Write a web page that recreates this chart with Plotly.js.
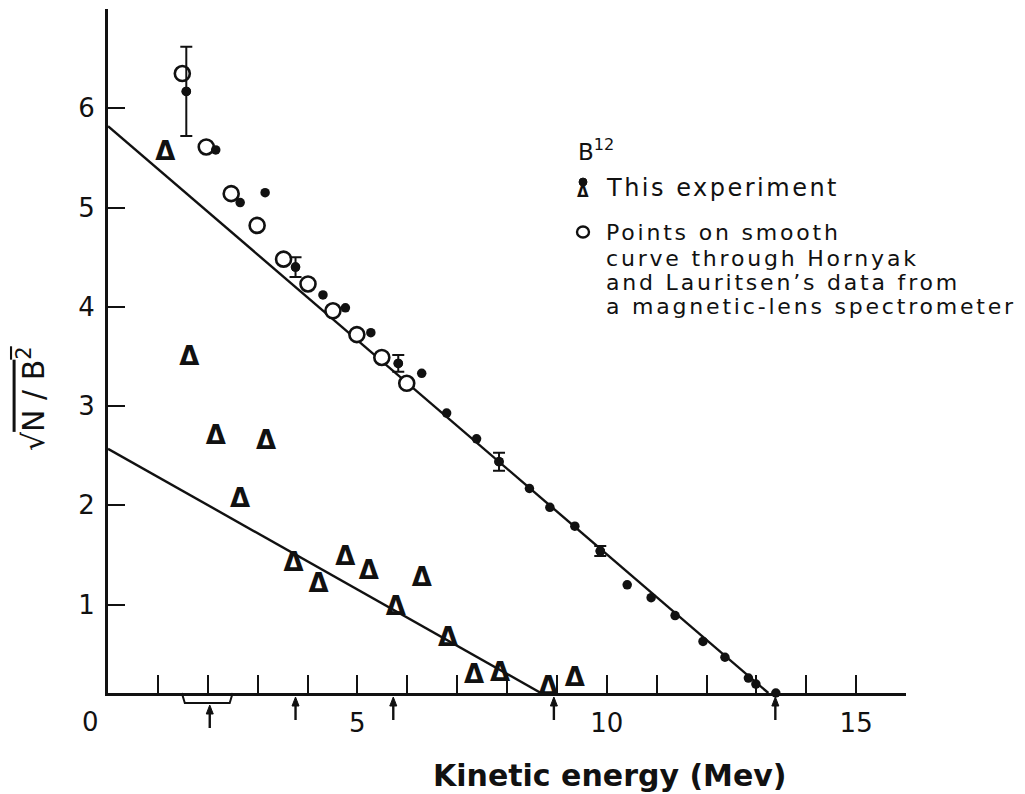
<!DOCTYPE html>
<html>
<head>
<meta charset="utf-8">
<script src="https://cdn.plot.ly/plotly-3.0.1.min.js"></script>
<style>
  html, body { margin: 0; padding: 0; background: #fff; }
  #chart { width: 1025px; height: 794px; }
</style>
</head>
<body>
<div id="chart"></div>
<script>
// ---- Data ----
// Filled dots: this experiment (upper spectrum)
const dotX = [1.57, 2.16, 2.65, 3.15, 3.76, 4.31, 4.76, 5.27, 5.82, 6.29, 6.79, 7.39, 7.84, 8.45, 8.86, 9.36, 9.87, 10.41, 10.89, 11.37, 11.93, 12.37, 12.84, 12.99, 13.39];
const dotY = [6.17, 5.58, 5.05, 5.15, 4.40, 4.12, 3.99, 3.74, 3.43, 3.33, 2.93, 2.67, 2.44, 2.17, 1.98, 1.79, 1.54, 1.20, 1.07, 0.89, 0.63, 0.47, 0.26, 0.20, 0.11];
const dotErr = [0.45, null, null, null, 0.10, null, null, null, 0.085, null, null, null, 0.09, null, null, null, 0.05, null, null, null, null, null, null, null, null];

// Open circles: Hornyak and Lauritsen smooth curve
const circX = [1.49, 1.97, 2.47, 2.99, 3.52, 4.01, 4.51, 4.99, 5.49, 5.99];
const circY = [6.35, 5.61, 5.14, 4.82, 4.48, 4.23, 3.96, 3.72, 3.49, 3.23];

// Triangles: this experiment (lower spectrum)
const triX = [1.15, 1.63, 2.16, 2.65, 3.17, 3.72, 4.22, 4.76, 5.23, 5.77, 6.29, 6.82, 7.34, 7.86, 8.83, 9.36];
const triY = [5.54, 3.48, 2.68, 2.05, 2.63, 1.40, 1.19, 1.46, 1.32, 0.96, 1.25, 0.65, 0.28, 0.30, 0.16, 0.25];

// Straight-line fits
const upperFitX = [0, 13.24];
const upperFitY = [5.82, 0.11];
const lowerFitX = [0, 8.68];
const lowerFitY = [2.57, 0.11];

// Energy markers (arrows under the axis) and bracket
const arrowX = [2.04, 3.76, 5.72, 8.94, 13.38];
const bracketX = [1.48, 2.50];

// Axis ticks
const xTickVals = [5, 10, 15];
const xTickText = ['5', '10', '15'];
const yTickVals = [1, 2, 3, 4, 5, 6];
const yTickText = ['1', '2', '3', '4', '5', '6'];

// Legend texts
const legendTitle = 'B<sup>12</sup>';
const legendDotsText = 'This experiment';
const legendCircleLines = ['Points on smooth', 'curve through Hornyak', "and Lauritsen’s data from", 'a magnetic-lens spectrometer'];
const xTitle = 'Kinetic energy (Mev)';

// ---- Layout helpers (pixel -> paper) ----
const M = {l: 108, r: 119, t: 9, b: 101};
const W = 1025, H = 794;
const PW = W - M.l - M.r, PH = H - M.t - M.b;
const px = x => (x - M.l) / PW;
const py = y => (H - M.b - y) / PH;
const XU = PW / 16; // pixels per x unit

const FONT = 'DejaVu Sans, Verdana, sans-serif';
const black = '#111';

// error-bar subset
const ebIdx = dotErr.map((e, i) => e == null ? -1 : i).filter(i => i >= 0);

const traces = [
  {x: upperFitX, y: upperFitY, mode: 'lines', line: {color: black, width: 2.4}, cliponaxis: false, hoverinfo: 'skip'},
  {x: lowerFitX, y: lowerFitY, mode: 'lines', line: {color: black, width: 2.4}, cliponaxis: false, hoverinfo: 'skip'},
  {x: circX, y: circY, mode: 'markers', cliponaxis: false,
   marker: {symbol: 'circle', size: 15, color: '#fff', line: {color: black, width: 2.6}}},
  {x: dotX, y: dotY, mode: 'markers', cliponaxis: false,
   marker: {symbol: 'circle', size: 9.5, color: black}},
  {x: ebIdx.map(i => dotX[i]), y: ebIdx.map(i => dotY[i]), mode: 'markers', cliponaxis: false,
   marker: {symbol: 'circle', size: 9.5, color: black},
   error_y: {type: 'data', array: ebIdx.map(i => dotErr[i]), visible: true, color: black, thickness: 2, width: 6}},
  {x: triX, y: triY, mode: 'text', text: triX.map(() => 'Δ'), textposition: 'middle center', cliponaxis: false,
   textfont: {family: FONT, size: 26, color: black, weight: 'bold'}}
];

const annotations = [];
// "0" tick label, offset left of the origin
annotations.push({x: px(90), xref: 'paper', y: py(722), yref: 'paper', text: '0', showarrow: false,
  xanchor: 'center', yanchor: 'middle', font: {family: FONT, size: 26, color: black}});
// x title
annotations.push({x: px(610), xref: 'paper', y: py(776), yref: 'paper', text: '<b>' + xTitle + '</b>', showarrow: false,
  xanchor: 'center', yanchor: 'middle', font: {family: FONT, size: 30, color: black}});
// y title
annotations.push({x: px(31), xref: 'paper', y: py(399), yref: 'paper', textangle: -90,
  text: '√<span style="text-decoration:overline">N / B<sup>2</sup></span>', showarrow: false,
  xanchor: 'center', yanchor: 'middle', font: {family: FONT, size: 30, color: black}});
// legend
annotations.push({x: px(576), xref: 'paper', y: py(150), yref: 'paper', text: legendTitle, showarrow: false,
  xanchor: 'left', yanchor: 'middle', font: {family: FONT, size: 23, color: black}});
annotations.push({x: px(583), xref: 'paper', y: py(192), yref: 'paper', text: '<b>Δ</b>', showarrow: false,
  xanchor: 'center', yanchor: 'middle', font: {family: FONT, size: 15, color: black}});
annotations.push({x: px(604), xref: 'paper', y: py(188), yref: 'paper',
  text: '<span style="letter-spacing:2.5px">' + legendDotsText + '</span>', showarrow: false,
  xanchor: 'left', yanchor: 'middle', font: {family: FONT, size: 24, color: black}});
const lineY = [232, 258, 283, 307];
legendCircleLines.forEach((t, i) => {
  annotations.push({x: px(604), xref: 'paper', y: py(lineY[i]), yref: 'paper',
    text: '<span style="letter-spacing:2.8px">' + t + '</span>', showarrow: false,
    xanchor: 'left', yanchor: 'middle', font: {family: FONT, size: 22, color: black}});
});

const shapes = [
  // bracket under the axis
  {type: 'path', xref: 'x', yref: 'paper',
   path: `M ${bracketX[0]},0 L ${bracketX[0] + 0.06},${-10 / PH} L ${bracketX[1] - 0.06},${-10 / PH} L ${bracketX[1]},0`,
   line: {color: black, width: 2}},
  // legend filled dot
  {type: 'circle', xref: 'paper', yref: 'paper', xsizemode: 'pixel', ysizemode: 'pixel',
   xanchor: px(583), yanchor: py(182), x0: -4, x1: 4, y0: -4, y1: 4, fillcolor: black, line: {color: black, width: 1}},
  // legend open circle
  {type: 'circle', xref: 'paper', yref: 'paper', xsizemode: 'pixel', ysizemode: 'pixel',
   xanchor: px(583), yanchor: py(232), x0: -6, x1: 6, y0: -5.5, y1: 5.5, line: {color: black, width: 2.4}}
];
// arrows under the x axis (shaft + head)
arrowX.forEach(v => {
  const inBracket = v >= bracketX[0] && v <= bracketX[1];
  const tip = inBracket ? 705 : 697;
  const tail = tip + 23;
  const headH = 9, headHalfW = 3.5 / XU;
  shapes.push({type: 'line', xref: 'x', yref: 'paper', x0: v, x1: v, y0: py(tip + headH - 1), y1: py(tail),
    line: {color: black, width: 2.4}});
  shapes.push({type: 'path', xref: 'x', yref: 'paper',
    path: `M ${v},${py(tip)} L ${v - headHalfW},${py(tip + headH)} L ${v + headHalfW},${py(tip + headH)} Z`,
    fillcolor: black, line: {color: black, width: 1}});
});

const layout = {
  width: W, height: H,
  margin: M,
  paper_bgcolor: '#fff', plot_bgcolor: '#fff',
  showlegend: false,
  font: {family: FONT, color: black},
  xaxis: {
    range: [0, 16], showline: true, linecolor: black, linewidth: 3, mirror: false,
    showgrid: false, zeroline: false,
    tickmode: 'array', tickvals: xTickVals, ticktext: xTickText,
    ticks: 'inside', ticklen: 18, tickwidth: 2, tickcolor: black,
    minor: {tickmode: 'linear', tick0: 0, dtick: 1, ticks: 'inside', ticklen: 18, tickwidth: 2, tickcolor: black, showgrid: false},
    tickfont: {family: FONT, size: 26, color: black}, ticklabelstandoff: 5,
    fixedrange: true
  },
  yaxis: {
    range: [0.11, 7.0], showline: true, linecolor: black, linewidth: 3,
    showgrid: false, zeroline: false,
    tickmode: 'array', tickvals: yTickVals, ticktext: yTickText,
    ticks: 'inside', ticklen: 17, tickwidth: 2, tickcolor: black,
    tickfont: {family: FONT, size: 26, color: black}, ticklabelstandoff: 5,
    fixedrange: true
  },
  annotations: annotations,
  shapes: shapes
};

Plotly.newPlot('chart', traces, layout, {displayModeBar: false, staticPlot: true});
</script>
</body>
</html>
